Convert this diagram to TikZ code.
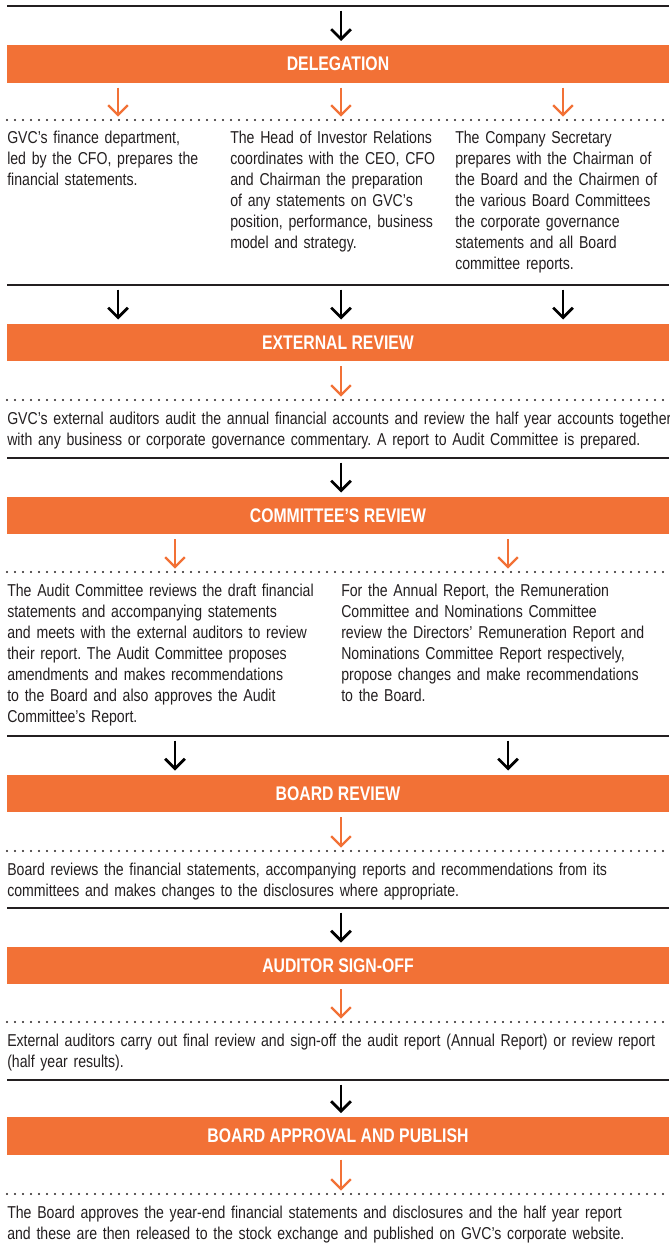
\documentclass[tikz,border=0pt]{standalone}
\usepackage{fontspec}
\setmainfont[FakeStretch=0.82, WordSpace=0.75]{Liberation Sans}
\newfontfamily\headfont[FakeStretch=0.8]{Liberation Sans}
\usetikzlibrary{arrows.meta, positioning}
\definecolor{gvcorange}{RGB}{242,113,54}
\definecolor{dgrey}{RGB}{35,31,32}
\tikzstyle{stage} = [rectangle, fill=gvcorange, text=white,
minimum width=496.5pt, minimum height=28.1pt, inner sep=0pt,
font=\headfont\fontsize{14.8}{16}\selectfont\bfseries]
\tikzstyle{body} = [anchor=base west, inner sep=0pt, align=left,
text width=560pt, text=dgrey, font=\fontsize{12.9}{15.75}\selectfont]
\tikzstyle{rule} = [line width=1.2pt, draw=dgrey]
\tikzstyle{dotline} = [line width=1.6pt, line cap=round,
dash pattern=on 0pt off 6pt, draw=dgrey]
\tikzstyle{arrow} = [line width=2pt, draw=black,
-{Straight Barb[angle=90:10.5pt]}, shorten <=3.5pt, shorten >=3pt]
\tikzstyle{oarrow} = [arrow, draw=gvcorange, line width=1.7pt,
shorten >=2.5pt]

\begin{document}
\frenchspacing
\begin{tikzpicture}[x=0.75pt, y=-0.75pt]
    \useasboundingbox (0,0) rectangle (669,1244);

    % stages
    \node (deleg) [stage] at (338,64) {DELEGATION};
    \node (ext) [stage] at (338,342.5) {EXTERNAL REVIEW};
    \node (comm) [stage] at (338,515.5) {COMMITTEE’S REVIEW};
    \node (board) [stage] at (338,793.5) {BOARD REVIEW};
    \node (signoff) [stage] at (338,965.5) {AUDITOR SIGN-OFF};
    \node (publish) [stage] at (338,1136) {BOARD APPROVAL AND PUBLISH};

    % solid rules
    \draw [rule] (7,6) -- (669,6);
    \draw [rule] (7,285) -- (669,285);
    \draw [rule] (7,458) -- (669,458);
    \draw [rule] (7,736) -- (669,736);
    \draw [rule] (7,908) -- (669,908);
    \draw [rule] (7,1080) -- (669,1080);

    % dotted rules
    \draw [dotline] (7,120) -- (669,120);
    \draw [dotline] (7,400) -- (669,400);
    \draw [dotline] (7,572) -- (669,572);
    \draw [dotline] (7,851) -- (669,851);
    \draw [dotline] (7,1022) -- (669,1022);
    \draw [dotline] (7,1194) -- (669,1194);

    % texts
    \node (finance) [body] at (7,144)
        {GVC’s finance department,\\ led by the CFO, prepares the\\
        financial statements.};
    \node (investor) [body] at (230,144)
        {The Head of Investor Relations\\ coordinates with the CEO, CFO\\
        and Chairman the preparation\\ of any statements on GVC’s\\
        position, performance, business\\ model and strategy.};
    \node (secretary) [body] at (455,144)
        {The Company Secretary\\ prepares with the Chairman of\\
        the Board and the Chairmen of\\ the various Board Committees\\
        the corporate governance\\ statements and all Board\\
        committee reports.};
    \node (auditors) [body] at (7,424.5)
        {GVC’s external auditors audit the annual financial accounts and review the half year accounts together\\
        with any business or corporate governance commentary. A report to Audit Committee is prepared.};
    \node (audit) [body] at (7,596.5)
        {The Audit Committee reviews the draft financial\\
        statements and accompanying statements\\
        and meets with the external auditors to review\\
        their report. The Audit Committee proposes\\
        amendments and makes recommendations\\
        to the Board and also approves the Audit\\
        Committee’s Report.};
    \node (remun) [body] at (341,596.5)
        {For the Annual Report, the Remuneration\\
        Committee and Nominations Committee\\
        review the Directors’ Remuneration Report and\\
        Nominations Committee Report respectively,\\
        propose changes and make recommendations\\
        to the Board.};
    \node (reviews) [body] at (7,875.5)
        {Board reviews the financial statements, accompanying reports and recommendations from its\\
        committees and makes changes to the disclosures where appropriate.};
    \node (final) [body] at (7,1046.5)
        {External auditors carry out final review and sign-off the audit report (Annual Report) or review report\\
        (half year results).};
    \node (approves) [body] at (7,1218.5)
        {The Board approves the year-end financial statements and disclosures and the half year report\\
        and these are then released to the stock exchange and published on GVC’s corporate website.};

    % arrow ends on the rules
    \coordinate (in) at (341,6);
    \coordinate (d1) at (118,120);
    \coordinate (d2) at (341,120);
    \coordinate (d3) at (563,120);
    \coordinate (r1) at (118,285);
    \coordinate (r2) at (341,285);
    \coordinate (r3) at (563,285);
    \coordinate (e1) at (341,400);
    \coordinate (e2) at (341,458);
    \coordinate (c1) at (175,572);
    \coordinate (c2) at (508,572);
    \coordinate (s1) at (175,736);
    \coordinate (s2) at (508,736);
    \coordinate (b1) at (341,851);
    \coordinate (b2) at (341,908);
    \coordinate (a1) at (341,1022);
    \coordinate (a2) at (341,1080);
    \coordinate (p1) at (341,1194);

    % arrows
    \draw [arrow] (in) -- (deleg.north -| in);
    \draw [oarrow] (deleg.south -| d1) -- (d1);
    \draw [oarrow] (deleg.south -| d2) -- (d2);
    \draw [oarrow] (deleg.south -| d3) -- (d3);
    \draw [arrow] (r1) -- (ext.north -| r1);
    \draw [arrow] (r2) -- (ext.north -| r2);
    \draw [arrow] (r3) -- (ext.north -| r3);
    \draw [oarrow] (ext.south -| e1) -- (e1);
    \draw [arrow] (e2) -- (comm.north -| e2);
    \draw [oarrow] (comm.south -| c1) -- (c1);
    \draw [oarrow] (comm.south -| c2) -- (c2);
    \draw [arrow] (s1) -- (board.north -| s1);
    \draw [arrow] (s2) -- (board.north -| s2);
    \draw [oarrow] (board.south -| b1) -- (b1);
    \draw [arrow] (b2) -- (signoff.north -| b2);
    \draw [oarrow] (signoff.south -| a1) -- (a1);
    \draw [arrow] (a2) -- (publish.north -| a2);
    \draw [oarrow] (publish.south -| p1) -- (p1);
\end{tikzpicture}
\end{document}
